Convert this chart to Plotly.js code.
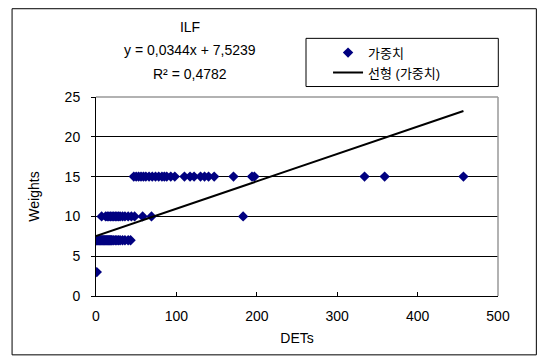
<!DOCTYPE html>
<html>
<head>
<meta charset="utf-8">
<script src="https://cdn.plot.ly/plotly-3.0.1.min.js"></script>
<style>html,body{margin:0;padding:0;background:#fff;}#chart{width:538px;height:357px;}</style>
</head>
<body>
<div id="chart"></div>
<script>
// Data
const detsRow15 = [47, 50, 53, 56, 59, 62, 66, 70, 74, 78, 82, 85, 88, 93, 98, 110, 117, 122, 130, 135, 140, 147, 171, 194, 197, 334, 359, 457];
const detsRow10 = [7, 12, 14, 16, 18, 20, 22, 24, 26, 28, 30, 33, 36, 40, 44, 48, 58, 69, 183];
const detsRow7 = [0, 1, 2, 3, 4, 5, 6, 7, 8, 9, 10, 11, 12, 13, 14, 15, 16, 17, 18, 19, 20, 22, 24, 26, 28, 30, 33, 36, 40, 43];
const detsRow3 = [1];
const weightLevels = [15, 10, 7, 3];
const trendSlope = 0.0344;
const trendIntercept = 7.5239;
const rSquared = "0,4782";
const xTicks = [0, 100, 200, 300, 400, 500];
const yTicks = [0, 5, 10, 15, 20, 25];

const rows = [detsRow15, detsRow10, detsRow7, detsRow3];
const xs = [], ys = [];
rows.forEach((r, i) => r.forEach(v => { xs.push(v); ys.push(weightLevels[i]); }));
const xmin = Math.min(...xs), xmax = Math.max(...xs);

const font = "Liberation Sans, Noto Sans CJK KR, sans-serif";

const traces = [
  {x: xs, y: ys, mode: 'markers', type: 'scatter', name: '가중치',
   marker: {symbol: 'diamond', size: 8, color: '#000080'}},
  {x: [xmin, xmax], y: [trendSlope * xmin + trendIntercept, trendSlope * xmax + trendIntercept],
   mode: 'lines', type: 'scatter', name: '선형 (가중치)',
   line: {color: '#000000', width: 2}}
];

const L = 96.3, R = 497.7, T = 96.5, B = 296;
const W = R - L, H = B - T;
const px = v => (v - L) / W;
const py = v => (B - v) / H;

const layout = {
  width: 538, height: 357,
  margin: {l: L, r: 538 - R, t: T, b: 357 - B, pad: 0},
  paper_bgcolor: '#ffffff', plot_bgcolor: '#ffffff',
  font: {family: font, size: 13, color: '#000'},
  showlegend: true,
  title: {text: 'ILF', x: 190 / 538, xanchor: 'center', xref: 'container',
          y: 1 - 27 / 357, yanchor: 'middle', yref: 'container',
          font: {family: font, size: 14, color: '#000'}},
  xaxis: {range: [0, 500], tickvals: xTicks, ticktext: xTicks.map(String),
          showgrid: false, zeroline: false, showline: true, linecolor: '#000', linewidth: 1,
          ticks: 'inside', ticklen: 4, tickcolor: '#000', ticklabelstandoff: 7,
          tickfont: {family: font, size: 14, color: '#000'},
          title: {text: 'DETs', font: {family: font, size: 14, color: '#000'}, standoff: 10}},
  yaxis: {range: [0, 25], tickvals: yTicks, ticktext: yTicks.map(String),
          showgrid: true, gridcolor: '#000', gridwidth: 1, zeroline: false,
          showline: true, linecolor: '#000', linewidth: 1,
          ticks: 'outside', ticklen: 4, tickcolor: '#000', ticklabelstandoff: 8,
          tickfont: {family: font, size: 14, color: '#000'},
          title: {text: 'Weights', font: {family: font, size: 14, color: '#000'}, standoff: 21}},
  legend: {x: px(328), y: py(37), xanchor: 'left', yanchor: 'top',
           borderwidth: 0, bgcolor: 'rgba(0,0,0,0)',
           font: {family: font, size: 13, color: '#000'}},
  annotations: [
    {xref: 'paper', yref: 'paper', x: px(190), y: py(49), xanchor: 'center', yanchor: 'middle',
     text: 'y = ' + String(trendSlope).replace('.', ',') + 'x + ' + String(trendIntercept).replace('.', ','),
     showarrow: false, font: {family: font, size: 14, color: '#000'}},
    {xref: 'paper', yref: 'paper', x: px(190), y: py(73), xanchor: 'center', yanchor: 'middle',
     text: 'R² = ' + rSquared, showarrow: false, font: {family: font, size: 14, color: '#000'}}
  ],
  shapes: [
    {type: 'rect', xref: 'paper', yref: 'paper', x0: px(12.5), x1: px(536), y0: py(355), y1: py(8),
     line: {color: '#000', width: 1}, fillcolor: 'rgba(0,0,0,0)', layer: 'below'},
    {type: 'rect', xref: 'paper', yref: 'paper', x0: px(306), x1: px(498), y0: py(86), y1: py(37.7),
     line: {color: '#000', width: 1}, fillcolor: 'rgba(0,0,0,0)', layer: 'below'},
    {type: 'line', xref: 'paper', yref: 'paper', x0: 0, x1: 1, y0: 1, y1: 1,
     line: {color: '#999', width: 1.5}},
    {type: 'line', xref: 'paper', yref: 'paper', x0: 1, x1: 1, y0: 0, y1: 1,
     line: {color: '#999', width: 1.5}}
  ]
};

Plotly.newPlot('chart', traces, layout, {staticPlot: true, displayModeBar: false});
</script>
</body>
</html>
